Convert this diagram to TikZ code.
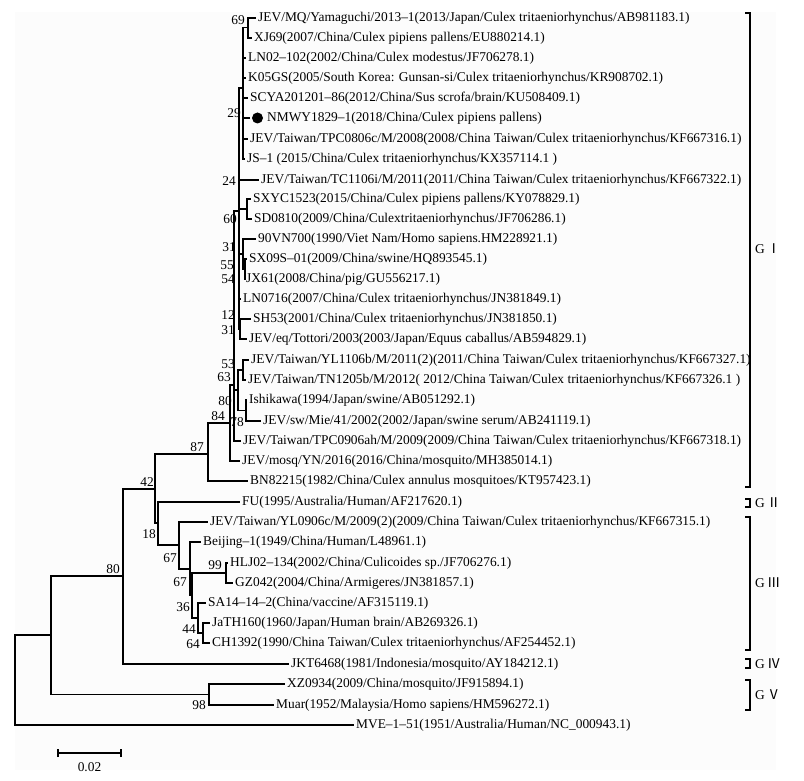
\documentclass[tikz,border=0pt]{standalone}
\usepackage{fontspec}
\setmainfont{Liberation Serif}
\newfontfamily\cjk{Noto Sans CJK SC}
\definecolor{bgc}{HTML}{FCFCFC}
\tikzset{
  br/.style={line width=1.2pt},
  leaf/.style={anchor=west, inner xsep=2pt, inner ysep=0pt, font=\fontsize{13.4}{15}\selectfont},
  bs/.style={inner sep=0pt, font=\fontsize{13.4}{15}\selectfont},
  dotmark/.style={circle, fill=black, inner sep=0pt, minimum size=11pt},
  grp/.style={anchor=west, inner sep=0pt, font=\fontsize{13.4}{15}\selectfont},
}
\begin{document}
\begin{tikzpicture}[x=1pt,y=-1pt]
\useasboundingbox (0,0) rectangle (804,781);
\fill[bgc] (15,12) rectangle (776,770);

% ---- leaves ----
\node[leaf] (l1) at (256,18) {JEV/MQ/Yamaguchi/2013–1(2013/Japan/Culex tritaeniorhynchus/AB981183.1)};
\node[leaf] (l2) at (252,38) {XJ69(2007/China/Culex pipiens pallens/EU880214.1)};
\node[leaf] (l3) at (246,58) {LN02–102(2002/China/Culex modestus/JF706278.1)};
\node[leaf] (l4) at (246,78) {K05GS(2005/South Korea: Gunsan-si/Culex tritaeniorhynchus/KR908702.1)};
\node[leaf] (l5) at (248,98) {SCYA201201–86(2012/China/Sus scrofa/brain/KU508409.1)};
\node[leaf] (l6) at (250,118) {\hspace{15pt}NMWY1829–1(2018/China/Culex pipiens pallens)};
\node[dotmark] (d6) at (257.5,118) {};
\node[leaf] (l7) at (248,139) {JEV/Taiwan/TPC0806c/M/2008(2008/China Taiwan/Culex tritaeniorhynchus/KF667316.1)};
\node[leaf] (l8) at (245,159) {JS–1 (2015/China/Culex tritaeniorhynchus/KX357114.1 )};
\node[leaf] (l9) at (259,180) {JEV/Taiwan/TC1106i/M/2011(2011/China Taiwan/Culex tritaeniorhynchus/KF667322.1)};
\node[leaf] (l10) at (251,199) {SXYC1523(2015/China/Culex pipiens pallens/KY078829.1)};
\node[leaf] (l11) at (252,219) {SD0810(2009/China/Culextritaeniorhynchus/JF706286.1)};
\node[leaf] (l12) at (256,239) {90VN700(1990/Viet Nam/Homo sapiens.HM228921.1)};
\node[leaf] (l13) at (247,259) {SX09S–01(2009/China/swine/HQ893545.1)};
\node[leaf] (l14) at (244,279) {JX61(2008/China/pig/GU556217.1)};
\node[leaf] (l15) at (241,299) {LN0716(2007/China/Culex tritaeniorhynchus/JN381849.1)};
\node[leaf] (l16) at (251,319) {SH53(2001/China/Culex tritaeniorhynchus/JN381850.1)};
\node[leaf] (l17) at (247,339) {JEV/eq/Tottori/2003(2003/Japan/Equus caballus/AB594829.1)};
\node[leaf] (l18) at (249,360) {JEV/Taiwan/YL1106b/M/2011(2)(2011/China Taiwan/Culex tritaeniorhynchus/KF667327.1)};
\node[leaf] (l19) at (246,380) {JEV/Taiwan/TN1205b/M/2012( 2012/China Taiwan/Culex tritaeniorhynchus/KF667326.1 )};
\node[leaf] (l20) at (247,400) {Ishikawa(1994/Japan/swine/AB051292.1)};
\node[leaf] (l21) at (261,421) {JEV/sw/Mie/41/2002(2002/Japan/swine serum/AB241119.1)};
\node[leaf] (l22) at (241,441) {JEV/Taiwan/TPC0906ah/M/2009(2009/China Taiwan/Culex tritaeniorhynchus/KF667318.1)};
\node[leaf] (l23) at (240,461) {JEV/mosq/YN/2016(2016/China/mosquito/MH385014.1)};
\node[leaf] (l24) at (248,481) {BN82215(1982/China/Culex annulus mosquitoes/KT957423.1)};
\node[leaf] (l25) at (240,502) {FU(1995/Australia/Human/AF217620.1)};
\node[leaf] (l26) at (208,522) {JEV/Taiwan/YL0906c/M/2009(2)(2009/China Taiwan/Culex tritaeniorhynchus/KF667315.1)};
\node[leaf] (l27) at (201,542) {Beijing–1(1949/China/Human/L48961.1)};
\node[leaf] (l28) at (228,563) {HLJ02–134(2002/China/Culicoides sp./JF706276.1)};
\node[leaf] (l29) at (233,583) {GZ042(2004/China/Armigeres/JN381857.1)};
\node[leaf] (l30) at (206,603) {SA14–14–2(China/vaccine/AF315119.1)};
\node[leaf] (l31) at (210,623) {JaTH160(1960/Japan/Human brain/AB269326.1)};
\node[leaf] (l32) at (210,643) {CH1392(1990/China Taiwan/Culex tritaeniorhynchus/AF254452.1)};
\node[leaf] (l33) at (289,664) {JKT6468(1981/Indonesia/mosquito/AY184212.1)};
\node[leaf] (l34) at (285,684) {XZ0934(2009/China/mosquito/JF915894.1)};
\node[leaf] (l35) at (274,705) {Muar(1952/Malaysia/Homo sapiens/HM596272.1)};
\node[leaf] (l36) at (354,725) {MVE–1–51(1951/Australia/Human/NC\_000943.1)};

% ---- internal nodes ----
\coordinate (r) at (15,680);
\coordinate (a) at (51,635);
\coordinate (b) at (123,576);
\coordinate (c) at (155,489);
\coordinate (d) at (208,454);
\coordinate (n84) at (230,423);
\coordinate (n63) at (234,385);
\coordinate (n24) at (239,211);
\coordinate (n29) at (243,88);
\coordinate (n69) at (248,27.5);
\coordinate (n60) at (247,209);
\coordinate (n31a) at (243,254);
\coordinate (n55) at (245,269);
\coordinate (n31) at (240,329);
\coordinate (n80) at (238,390);
\coordinate (n53) at (243,370);
\coordinate (n78) at (246,410.5);
\coordinate (e) at (158,523);
\coordinate (f) at (179,545);
\coordinate (g) at (190,569);
\coordinate (h) at (192,595);
\coordinate (n99) at (226,573);
\coordinate (i) at (198,618);
\coordinate (j) at (203,633);
\coordinate (gv) at (209,694.5);

% ---- branches ----
\draw[br] (r) |- (a);   \draw[br] (r) |- (l36.west);
\draw[br] (a) |- (b);   \draw[br] (a) |- (gv);
\draw[br] (gv) |- (l34.west); \draw[br] (gv) |- (l35.west);
\draw[br] (b) |- (c);   \draw[br] (b) |- (l33.west);
\draw[br] (c) |- (d);   \draw[br] (c) |- (e);
\draw[br] (d) |- (n84); \draw[br] (d) |- (l24.west);
\draw[br] (n84) |- (n63); \draw[br] (n84) |- (l23.west);
\draw[br] (n63) |- (n24); \draw[br] (n63) |- (n80); \draw[br] (n63) |- (l22.west);
\draw[br] (n80) |- (n53); \draw[br] (n80) |- (n78);
\draw[br] (n53) |- (l18.west); \draw[br] (n53) |- (l19.west);
\draw[br] (n78) |- (l20.west); \draw[br] (n78) |- (l21.west);
\draw[br] (n24) |- (n29); \draw[br] (n24) |- (l9.west); \draw[br] (n24) |- (n60);
\draw[br] (n24) |- (n31a); \draw[br] (n24) |- (l15.west); \draw[br] (n24) |- (n31);
\draw[br] (n29) |- (n69);
\draw[br] (n69) |- (l1.west); \draw[br] (n69) |- (l2.west);
\draw[br] (n29) |- (l3.west); \draw[br] (n29) |- (l4.west); \draw[br] (n29) |- (l5.west);
\draw[br] (n29) |- (l6.west); \draw[br] (n29) |- (l7.west); \draw[br] (n29) |- (l8.west);
\draw[br] (n60) |- (l10.west); \draw[br] (n60) |- (l11.west);
\draw[br] (n31a) |- (l12.west); \draw[br] (n31a) |- (n55);
\draw[br] (n55) |- (l13.west); \draw[br] (n55) |- (l14.west);
\draw[br] (n31) |- (l16.west); \draw[br] (n31) |- (l17.west);
\draw[br] (e) |- (l25.west); \draw[br] (e) |- (f);
\draw[br] (f) |- (l26.west); \draw[br] (f) |- (g);
\draw[br] (g) |- (l27.west); \draw[br] (g) |- (h);
\draw[br] (h) |- (n99); \draw[br] (h) |- (i);
\draw[br] (n99) |- (l28.west); \draw[br] (n99) |- (l29.west);
\draw[br] (i) |- (l30.west); \draw[br] (i) |- (j);
\draw[br] (j) |- (l31.west); \draw[br] (j) |- (l32.west);

% ---- bootstrap values ----
\node[bs] (b69) at (238,20) {69};
\node[bs] (b29) at (234,113) {29};
\node[bs] (b24) at (229,181) {24};
\node[bs] (b60) at (230,219) {60};
\node[bs] (b31a) at (229,247) {31};
\node[bs] (b55) at (227,265) {55};
\node[bs] (b54) at (228,279) {54};
\node[bs] (b12) at (228,315) {12};
\node[bs] (b31) at (228,330) {31};
\node[bs] (b53) at (228,364) {53};
\node[bs] (b63) at (224,377) {63};
\node[bs] (b80a) at (225,401) {80};
\node[bs] (b78) at (237,422) {78};
\node[bs] (b84) at (218,416) {84};
\node[bs] (b87) at (197,447) {87};
\node[bs] (b42) at (147,482) {42};
\node[bs] (b18) at (149,534) {18};
\node[bs] (b67a) at (170,558) {67};
\node[bs] (b67b) at (180,582) {67};
\node[bs] (b99) at (215,565) {99};
\node[bs] (b36) at (183,607) {36};
\node[bs] (b44) at (189,629) {44};
\node[bs] (b64) at (193,644) {64};
\node[bs] (b98) at (199,705) {98};
\node[bs] (b80) at (113,569) {80};

% ---- genotype brackets ----
\coordinate (g1t) at (750,13);  \coordinate (g1b) at (750,487);
\coordinate (g2t) at (750,499); \coordinate (g2b) at (750,507);
\coordinate (g3t) at (750,517); \coordinate (g3b) at (750,650);
\coordinate (g4t) at (750,659); \coordinate (g4b) at (750,668);
\coordinate (g5t) at (750,680); \coordinate (g5b) at (750,710);
\foreach \g in {1,...,5}{
  \draw[br] ([xshift=-5pt]g\g t) -- (g\g t) -- (g\g b) -- ([xshift=-5pt]g\g b);
}
\node[grp] (gl1) at (755,249) {G\,{\cjk Ⅰ}};
\node[grp] (gl2) at (755,503) {G\,{\cjk Ⅱ}};
\node[grp] (gl3) at (755,583) {G\,{\cjk Ⅲ}};
\node[grp] (gl4) at (755,664) {G\,{\cjk Ⅳ}};
\node[grp] (gl5) at (755,695) {G\,{\cjk Ⅴ}};

% ---- scale bar ----
\coordinate (sb1) at (58,753);
\coordinate (sb2) at (121,753);
\draw[br] (sb1) -- (sb2);
\draw[br] ([yshift=-4pt]sb1) -- ([yshift=4pt]sb1);
\draw[br] ([yshift=-4pt]sb2) -- ([yshift=4pt]sb2);
\node[bs] (sbl) at (89.5,767) {0.02};
\end{tikzpicture}
\end{document}
